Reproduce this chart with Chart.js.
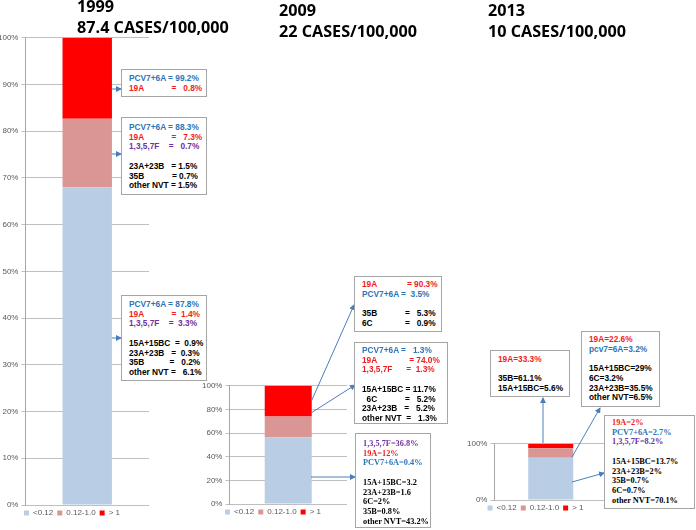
<!DOCTYPE html>
<html>
<head>
<meta charset="utf-8">
<script src="https://cdn.jsdelivr.net/npm/chart.js@4.4.1/dist/chart.umd.min.js"></script>
<style>
  html, body { margin: 0; padding: 0; background: #fff; }
  #wrap { position: relative; width: 696px; height: 530px; overflow: hidden; }
  canvas { position: absolute; }
  .title { position: absolute; font: 700 16.2px 'Open Sans', 'Liberation Sans', sans-serif; line-height: 21px; color: #000; white-space: nowrap; }
  .box { position: absolute; box-sizing: border-box; background: #fff; border: 1px solid #a6a6a6;
         font: bold 8.3px 'Liberation Sans', Arial, sans-serif; line-height: 9.7px; white-space: pre; padding: 4px 7px; }
  .box.serif { font-family: 'Liberation Serif', 'Times New Roman', serif; }
  svg { position: absolute; left: 0; top: 0; }
</style>
</head>
<body>
<div id="wrap">
  <canvas id="c1999"></canvas>
  <canvas id="c2009"></canvas>
  <canvas id="c2013"></canvas>
  <svg id="arrows" width="696" height="530"></svg>
</div>
<script>
// MIC groups and % of isolates in each group, one array per year
const groups = ['<0.12', '0.12-1.0', '> 1'];
const years = ['1999', '2009', '2013'];
const rates = ['87.4 CASES/100,000', '22 CASES/100,000', '10 CASES/100,000'];
const share1999 = [68, 14.7, 17.3];
const share2009 = [56.5, 17.5, 26];
const share2013 = [75, 17, 8];
const tickSteps = [10, 20, 100];

const barColors = ['#b9cde5', '#d99694', '#ff0000'];
const textColors = { b: '#2e75b6', r: '#f01e23', p: '#7030a0', k: '#000' };

// serotype notes: [text, colour] pairs, '' is an empty line
const note1999hi = [['PCV7+6A = 99.2%', 'b'], ['19A            =   0.8%', 'r']];
const note1999mid = [['PCV7+6A = 88.3%', 'b'], ['19A            =   7.3%', 'r'], ['1,3,5,7F    =   0.7%', 'p'], ['', 'k'],
  ['23A+23B   = 1.5%', 'k'], ['35B            = 0.7%', 'k'], ['other NVT = 1.5%', 'k']];
const note1999lo = [['PCV7+6A = 87.8%', 'b'], ['19A            =  1.4%', 'r'], ['1,3,5,7F    =  3.3%', 'p'], ['', 'k'],
  ['15A+15BC  =  0.9%', 'k'], ['23A+23B   =  0.3%', 'k'], ['35B           =   0.2%', 'k'], ['other NVT =   6.1%', 'k']];
const note2009hi = [['19A             = 90.3%', 'r'], ['PCV7+6A =  3.5%', 'b'], ['', 'k'],
  ['35B            =   5.3%', 'k'], ['6C              =   0.9%', 'k']];
const note2009mid = [['PCV7+6A =   1.3%', 'b'], ['19A              = 74.0%', 'r'], ['1,3,5,7F      =  1.3%', 'r'], ['', 'k'],
  ['15A+15BC = 11.7%', 'k'], ['  6C            =   5.2%', 'k'], ['23A+23B   =   5.2%', 'k'], ['other NVT  =   1.3%', 'k']];
const note2009lo = [['1,3,5,7F=36.8%', 'p'], ['19A=12%', 'r'], ['PCV7+6A=0.4%', 'b'], ['', 'k'],
  ['15A+15BC=3.2', 'k'], ['23A+23B=1.6', 'k'], ['6C=2%', 'k'], ['35B=0.8%', 'k'], ['other NVT=43.2%', 'k']];
const note2013hi = [['19A=33.3%', 'r'], ['', 'k'], ['35B=61.1%', 'k'], ['15A+15BC=5.6%', 'k']];
const note2013mid = [['19A=22.6%', 'r'], ['pcv7=6A=3.2%', 'b'], ['', 'k'],
  ['15A+15BC=29%', 'k'], ['6C=3.2%', 'k'], ['23A+23B=35.5%', 'k'], ['other NVT=6.5%', 'k']];
const note2013lo = [['19A=2%', 'r'], ['PCV7+6A=2.7%', 'b'], ['1,3,5,7F=8.2%', 'p'], ['', 'k'],
  ['15A+15BC=13.7%', 'k'], ['23A+23B=2%', 'k'], ['35B=0.7%', 'k'], ['6C=0.7%', 'k'], ['other NVT=70.1%', 'k']];

const wrap = document.getElementById('wrap');

function makeChart(id, values, step, box) {
  const el = document.getElementById(id);
  Object.assign(el.style, { left: box[0] + 'px', top: box[1] + 'px', width: box[2] + 'px', height: box[3] + 'px' });
  return new Chart(el, {
    type: 'bar',
    data: {
      labels: [''],
      datasets: groups.map((g, i) => ({
        label: g,
        data: [values[i]],
        backgroundColor: barColors[i],
        borderWidth: 0,
        barPercentage: 0.4,
        categoryPercentage: 1,
      })),
    },
    options: {
      responsive: false,
      animation: false,
      layout: { padding: { top: 2, right: 0, left: 0, bottom: 0 } },
      plugins: {
        legend: {
          position: 'bottom',
          labels: { boxWidth: 5, boxHeight: 5, padding: 4, color: '#595959', font: { size: 8, family: 'Liberation Sans' } },
        },
        tooltip: { enabled: false },
      },
      scales: {
        x: {
          display: false,
          stacked: true,
        },
        y: {
          stacked: true,
          min: 0,
          max: 100,
          ticks: { stepSize: step, padding: 3, color: '#595959', font: { size: 8, family: 'Liberation Sans' }, callback: v => v + '%' },
          grid: { color: '#bfbfbf', tickLength: 4 },
          border: { color: '#a6a6a6' },
        },
      },
    },
  });
}

makeChart('c1999', share1999, tickSteps[0], [-5, 30, 154, 497]);
makeChart('c2009', share2009, tickSteps[1], [199, 378, 148, 148]);
makeChart('c2013', share2013, tickSteps[2], [464, 436, 143, 86]);

// titles
[[77, -4], [279, 0], [488, 0]].forEach((p, i) => {
  const d = document.createElement('div');
  d.className = 'title';
  d.style.left = p[0] + 'px';
  d.style.top = p[1] + 'px';
  d.innerHTML = years[i] + '<br>' + rates[i];
  wrap.appendChild(d);
});

// note boxes: [lines, left, top, width, height, serif, padTop]
const boxes = [
  [note1999hi, 121, 69, 86, 28, false, 4],
  [note1999mid, 121, 117, 86, 78, false, 5],
  [note1999lo, 121, 295, 86, 86, false, 4],
  [note2009hi, 354, 276, 88, 56, false, 3],
  [note2009mid, 354, 342, 94, 82, false, 3],
  [note2009lo, 355, 433, 76, 95, true, 5],
  [note2013hi, 490, 350, 80, 47, false, 4],
  [note2013mid, 581, 331, 79, 76, false, 3],
  [note2013lo, 604, 415, 91, 94, true, 2],
];
boxes.forEach(b => {
  const d = document.createElement('div');
  d.className = 'box' + (b[5] ? ' serif' : '');
  Object.assign(d.style, { left: b[1] + 'px', top: b[2] + 'px', width: b[3] + 'px', height: b[4] + 'px', paddingTop: b[6] + 'px' });
  b[0].forEach(([t, c]) => {
    const line = document.createElement('div');
    line.style.color = textColors[c];
    line.textContent = t || ' ';
    d.appendChild(line);
  });
  wrap.appendChild(d);
});

// pointer arrows from bar segments to their boxes
const arrows = [
  [112, 89, 121, 89], [112, 154, 121, 154], [112, 338, 121, 338],
  [311, 402, 354, 305], [311, 413, 355, 385], [311, 477, 355, 477],
  [543, 443, 543, 398], [572, 457, 600, 408], [572, 482, 604, 473],
];
const svg = document.getElementById('arrows');
let s = '<defs><marker id="hd" markerWidth="6" markerHeight="6" refX="5" refY="3" orient="auto" markerUnits="userSpaceOnUse">' +
  '<path d="M0,0 L6,3 L0,6 z" fill="#4a7ebb"/></marker></defs>';
arrows.forEach(a => {
  s += `<line x1="${a[0]}" y1="${a[1]}" x2="${a[2]}" y2="${a[3]}" stroke="#4a7ebb" stroke-width="1" marker-end="url(#hd)"/>`;
});
svg.innerHTML = s;
</script>
</body>
</html>
